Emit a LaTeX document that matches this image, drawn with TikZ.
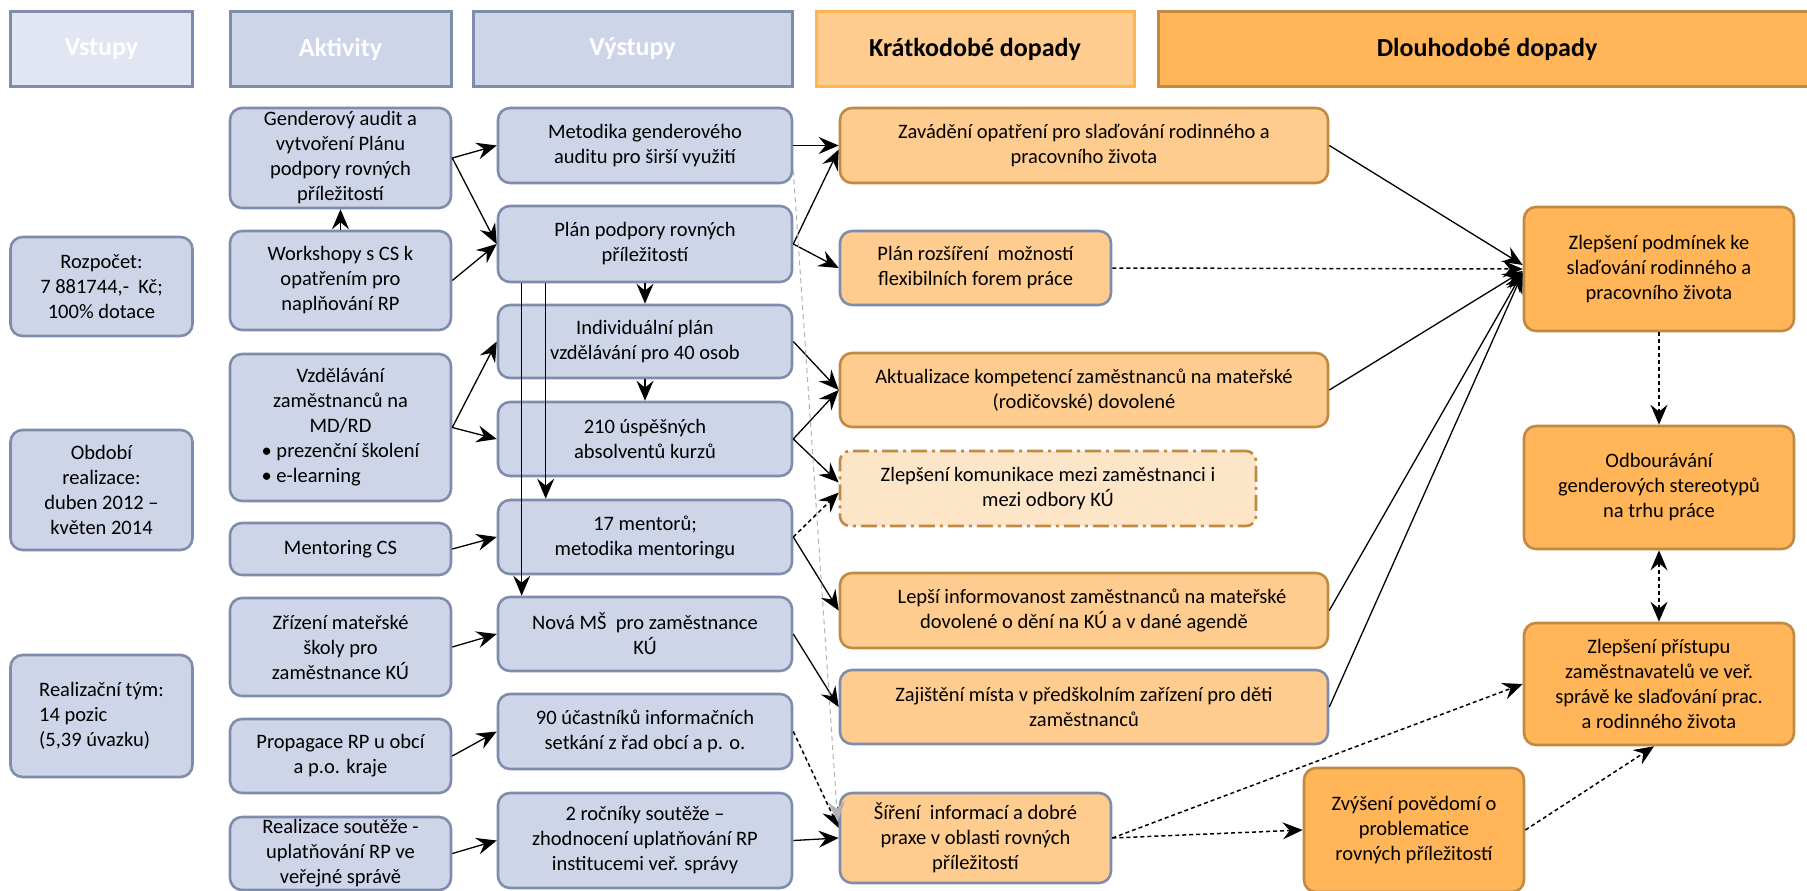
\documentclass[tikz,border=0pt]{standalone}
\usepackage{fontspec}
\setmainfont{Carlito}
\usetikzlibrary{arrows.meta,calc}
\definecolor{bfill}{RGB}{206,213,232}
\definecolor{bline}{RGB}{128,140,172}
\definecolor{vfill}{RGB}{226,230,242}
\definecolor{sfill}{RGB}{255,204,143}
\definecolor{brline}{RGB}{192,138,66}
\definecolor{khline}{RGB}{255,180,80}
\definecolor{lfill}{RGB}{255,181,88}
\definecolor{pfill}{RGB}{253,229,200}
\tikzset{
  box/.style={rectangle, rounded corners=12pt, line width=2.6pt, align=center, inner sep=2pt,
    font=\fontsize{20.5}{25}\selectfont},
  bluebox/.style={box, draw=bline, fill=bfill},
  shortbox/.style={box, draw=brline, fill=sfill},
  shortblue/.style={box, draw=bline, fill=sfill},
  longbox/.style={box, draw=brline, fill=lfill},
  hdr/.style={rectangle, line width=3pt, align=center, minimum height=74,
    font=\fontsize{26}{30}\selectfont\bfseries},
  arr/.style={-{Stealth[length=20pt,width=17pt,inset=7pt]}, line width=1.3pt},
  darr/.style={arr, dash pattern=on 4pt off 3pt, line width=1.5pt},
  garr/.style={-{Stealth[length=20pt,width=17pt,inset=7pt]}, draw=black!30, dash pattern=on 5pt off 4pt, line width=1pt}
}
\begin{document}
\begin{tikzpicture}[x=1pt,y=-1pt]
\useasboundingbox (0,0) rectangle (1807,891);
\clip (0,0) rectangle (1807,891);
\fill[white] (0,0) rectangle (1807,891);

% headers
\node[hdr, draw=bline, fill=vfill, text=white, minimum width=182] (hV) at (101.5,49) {Vstupy};
\node[hdr, draw=bline, fill=bfill, text=white, minimum width=221] (hA) at (340.5,49) {Aktivity};
\node[hdr, draw=bline, fill=bfill, text=white, minimum width=319] (hO) at (632.5,49) {Výstupy};
\node[hdr, draw=khline, fill=sfill, minimum width=318] (hK) at (975,49) {Krátkodobé dopady};
\node[hdr, draw=brline, fill=lfill, minimum width=658] (hD) at (1487,49) {Dlouhodobé dopady};

% inputs
\node[bluebox, minimum width=182, minimum height=99] (rz) at (101.5,286.5) {Rozpočet:\\7 881744,-~ Kč;\\100\% dotace};
\node[bluebox, minimum width=182, minimum height=120] (ob) at (101.5,490) {Období\\realizace:\\duben 2012 –\\květen 2014};
\node[bluebox, minimum width=182, minimum height=122, align=left] (rt) at (101.5,716) {Realizační tým:\\14 pozic\\(5,39 úvazku)};

% activities
\node[bluebox, minimum width=221, minimum height=100] (ga) at (340.5,158) {Genderový audit a\\vytvoření Plánu\\podpory rovných\\příležitostí};
\node[bluebox, minimum width=221, minimum height=99] (ws) at (340.5,280.5) {Workshopy s CS k\\opatřením pro\\naplňování RP};
\node[bluebox, minimum width=221, minimum height=147] (vz) at (340.5,427.5) {Vzdělávání\\zaměstnanců na\\MD/RD\\• prezenční školení\\\rlap{• e-learning}\phantom{• prezenční školení}};
\node[bluebox, minimum width=221, minimum height=52] (mc) at (340.5,549) {Mentoring CS};
\node[bluebox, minimum width=221, minimum height=98] (zm) at (340.5,647) {Zřízení mateřské\\školy pro\\zaměstnance KÚ};
\node[bluebox, minimum width=221, minimum height=74] (pr) at (340.5,756) {Propagace RP u obcí\\a p.o. kraje};
\node[bluebox, minimum width=221, minimum height=73, inner sep=0pt] (rs) at (340.5,853.5) {Realizace soutěže -\\uplatňování RP ve\\veřejné správě};

% outputs
\node[bluebox, minimum width=294, minimum height=75] (me) at (645,145.5) {Metodika genderového\\auditu pro širší využití};
\node[bluebox, minimum width=294, minimum height=76] (pp) at (645,244) {Plán podpory rovných\\příležitostí};
\node[bluebox, minimum width=294, minimum height=73] (ip) at (645,341.5) {Individuální plán\\vzdělávání pro 40 osob};
\node[bluebox, minimum width=294, minimum height=74] (ab) at (645,439) {210 úspěšných\\absolventů kurzů};
\node[bluebox, minimum width=294, minimum height=74] (mt) at (645,537) {17 mentorů;\\metodika mentoringu};
\node[bluebox, minimum width=294, minimum height=74] (ms) at (645,634) {Nová MŠ~ pro zaměstnance\\KÚ};
\node[bluebox, minimum width=294, minimum height=75] (uc) at (645,731.5) {90 účastníků informačních\\setkání z řad obcí a p. o.};
\node[bluebox, minimum width=294, minimum height=95] (ro) at (645,840.5) {2 ročníky soutěže –\\zhodnocení uplatňování RP\\institucemi veř. správy};

% short-term
\node[shortbox, minimum width=488, minimum height=75] (za) at (1084,145.5) {Zavádění opatření pro slaďování rodinného a\\pracovního života};
\node[shortblue, minimum width=271, minimum height=74] (pl) at (975.5,268) {Plán rozšíření~ možností\\flexibilních forem práce};
\node[shortbox, minimum width=488, minimum height=74] (ak) at (1084,390) {Aktualizace kompetencí zaměstnanců na mateřské\\(rodičovské) dovolené};
\node[box, draw=brline, fill=pfill, dash pattern=on 16pt off 5pt on 3pt off 5pt, rounded corners=10pt, minimum width=416, minimum height=75] (ko) at (1048,488.5) {Zlepšení komunikace mezi zaměstnanci i\\mezi odbory KÚ};
\node[shortbox, minimum width=488, minimum height=75] (li) at (1084,610.5) {\hspace*{16pt}Lepší informovanost zaměstnanců na mateřské\\dovolené o dění na KÚ a v dané agendě};
\node[shortblue, minimum width=488, minimum height=74] (zj) at (1084,707) {Zajištění místa v předškolním zařízení pro děti\\zaměstnanců};
\node[shortblue, minimum width=271, minimum height=90] (si) at (975.5,838) {Šíření~ informací a dobré\\praxe v oblasti rovných\\příležitostí};

% long-term
\node[longbox, minimum width=220, minimum height=124] (zv) at (1414,830) {Zvýšení povědomí o\\problematice\\rovných příležitostí};
\node[longbox, minimum width=270, minimum height=124] (zp) at (1659,269) {Zlepšení podmínek ke\\slaďování rodinného a\\pracovního života};
\node[longbox, minimum width=270, minimum height=123] (od) at (1659,487.5) {Odbourávání\\genderových stereotypů\\na trhu práce};
\node[longbox, minimum width=270, minimum height=122] (zr) at (1659,684) {Zlepšení přístupu\\zaměstnavatelů ve veř.\\správě ke slaďování prac.\\a rodinného života};

% activities -> outputs
\draw[arr] (ga.east) -- (me.west);
\draw[arr] (ga.east) -- (pp.west);
\draw[arr] (ws.north) -- (ga.south);
\draw[arr] (ws.east) -- (pp.west);
\draw[arr] (vz.east) -- (ip.west);
\draw[arr] (vz.east) -- (ab.west);
\draw[arr] (mc.east) -- (mt.west);
\draw[arr] (zm.east) -- (ms.west);
\draw[arr] (pr.east) -- (uc.west);
\draw[arr] (rs.east) -- (ro.west);

% within outputs
\draw[arr] (pp.south) -- (ip.north);
\draw[arr] (ip.south) -- (ab.north);
\draw[arr] ($(pp.south west)+(49,0)$) -- ($(mt.north west)+(49,0)$);
\draw[arr] ($(pp.south west)+(25,0)$) -- ($(ms.north west)+(25,0)$);

% outputs -> short-term
\draw[arr] (me.east) -- (za.west);
\draw[arr] (pp.east) -- ($(za.west)+(0,4)$);
\draw[arr] (pp.east) -- (pl.west);
\draw[arr] (ip.east) -- (ak.west);
\draw[arr] (ab.east) -- (ak.west);
\draw[arr] (ab.east) -- ($(ko.west)+(0,-6)$);
\draw[darr] (mt.east) -- ($(ko.west)+(0,4)$);
\draw[arr] (mt.east) -- (li.west);
\draw[arr] (ms.east) -- (zj.west);
\draw[darr] (uc.east) -- ($(si.west)+(0,-10)$);
\draw[arr] (ro.east) -- (si.west);
\draw[garr] ($(me.east)+(0,25)$) -- ($(si.north west)+(-1,30)$);

% short-term -> long-term
\draw[arr] (za.east) -- ($(zp.west)+(0,-4)$);
\draw[darr] (pl.east) -- (zp.west);
\draw[arr] (ak.east) -- ($(zp.west)+(0,2)$);
\draw[arr] (li.east) -- ($(zp.west)+(0,3)$);
\draw[arr] (zj.east) -- ($(zp.west)+(0,4)$);
\draw[darr] (zp.south) -- (od.north);
\draw[darr, {Stealth[length=20pt,width=17pt,inset=7pt]}-{Stealth[length=20pt,width=17pt,inset=7pt]}] (od.south) -- (zr.north);
\draw[darr] (si.east) -- (zr.west);
\draw[darr] (si.east) -- (zv.west);
\draw[darr] (zv.east) -- ($(zr.south)+(-5,0)$);
\end{tikzpicture}
\end{document}
